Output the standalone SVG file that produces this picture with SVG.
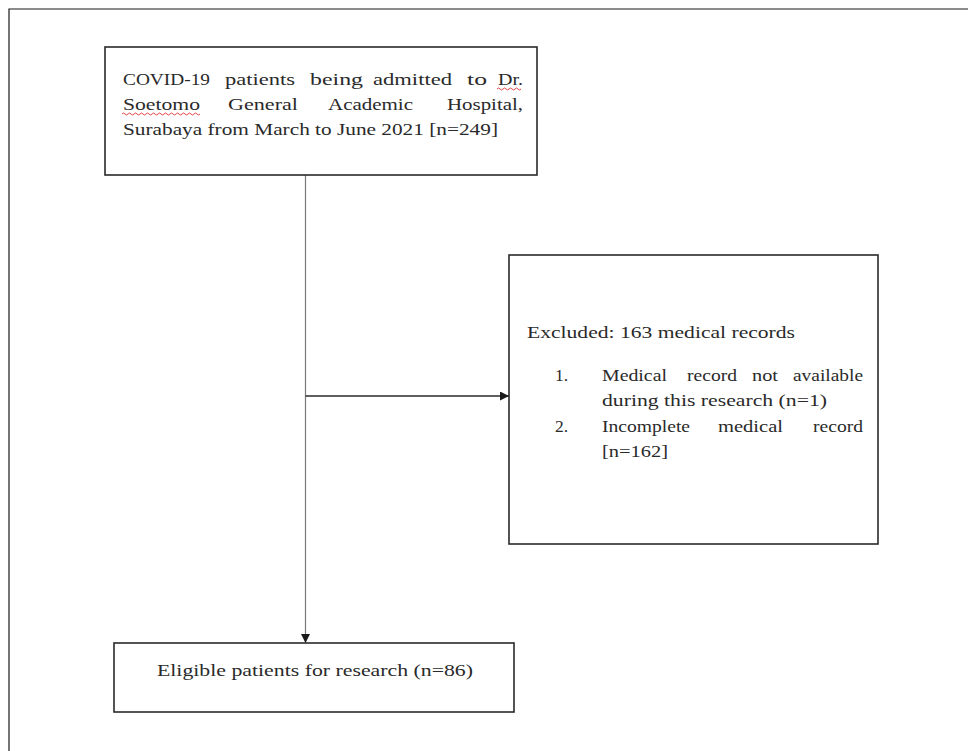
<svg xmlns="http://www.w3.org/2000/svg" width="968" height="751" viewBox="0 0 968 751">
<defs>
<style>
.box{fill:#fff;stroke:#2a2a2a;stroke-width:1.6}
.t{font-family:"Liberation Serif","DejaVu Serif",serif;font-size:17.5px;fill:#2a2a2a}
.sq{fill:none;stroke:#e03030;stroke-width:0.9}
</style>
<marker id="ah" viewBox="0 0 10 10" refX="10" refY="5" markerWidth="10" markerHeight="9" markerUnits="userSpaceOnUse" orient="auto">
<path d="M0,0 L10,5 L0,10 Z" fill="#1a1a1a"/>
</marker>
</defs>
<rect width="968" height="751" fill="#fff"/>
<g id="frame">
<path d="M9,751 L9,9 L968,9" fill="none" stroke="#1a1a1a" stroke-width="1.2"/>
</g>
<g id="connectors">
<line x1="305.5" y1="175" x2="305.5" y2="643" stroke="#7a7a7a" stroke-width="1.2" marker-end="url(#ah)"/>
<line x1="305.5" y1="396" x2="509" y2="396" stroke="#2a2a2a" stroke-width="1.5" marker-end="url(#ah)"/>
</g>
<g id="node-admitted">
<rect class="box" x="105" y="47" width="432" height="128"/>
<text class="t" x="123" y="85" textLength="87" lengthAdjust="spacingAndGlyphs">COVID-19</text>
<text class="t" x="225" y="85" textLength="70" lengthAdjust="spacingAndGlyphs">patients</text>
<text class="t" x="310" y="85" textLength="53" lengthAdjust="spacingAndGlyphs">being</text>
<text class="t" x="373" y="85" textLength="79" lengthAdjust="spacingAndGlyphs">admitted</text>
<text class="t" x="467" y="85" textLength="20" lengthAdjust="spacingAndGlyphs">to</text>
<text class="t" x="498" y="85" textLength="25" lengthAdjust="spacingAndGlyphs">Dr.</text>
<text class="t" x="123" y="110" textLength="77" lengthAdjust="spacingAndGlyphs">Soetomo</text>
<text class="t" x="228" y="110" textLength="70" lengthAdjust="spacingAndGlyphs">General</text>
<text class="t" x="328" y="110" textLength="85" lengthAdjust="spacingAndGlyphs">Academic</text>
<text class="t" x="447" y="110" textLength="76" lengthAdjust="spacingAndGlyphs">Hospital,</text>
<text class="t" x="123" y="135" textLength="375" lengthAdjust="spacingAndGlyphs">Surabaya from March to June 2021 [n=249]</text>
<path class="sq" d="M497,89 q1.5,-2 3,0 t3,0 t3,0 t3,0 t3,0 t3,0 t3,0 t3,0"/>
<path class="sq" d="M122,114 q1.5,-2 3,0 t3,0 t3,0 t3,0 t3,0 t3,0 t3,0 t3,0 t3,0 t3,0 t3,0 t3,0 t3,0 t3,0 t3,0 t3,0 t3,0 t3,0 t3,0 t3,0 t3,0 t3,0 t3,0 t3,0 t3,0 t3,0"/>
</g>
<g id="node-excluded">
<rect class="box" x="509" y="255" width="369" height="289"/>
<text class="t" x="527" y="338" textLength="268" lengthAdjust="spacingAndGlyphs">Excluded: 163 medical records</text>
<text class="t" x="555" y="381">1.</text>
<text class="t" x="602" y="381" textLength="65" lengthAdjust="spacingAndGlyphs">Medical</text>
<text class="t" x="687" y="381" textLength="50" lengthAdjust="spacingAndGlyphs">record</text>
<text class="t" x="752" y="381" textLength="26" lengthAdjust="spacingAndGlyphs">not</text>
<text class="t" x="793" y="381" textLength="70" lengthAdjust="spacingAndGlyphs">available</text>
<text class="t" x="602" y="406" textLength="225" lengthAdjust="spacingAndGlyphs">during this research (n=1)</text>
<text class="t" x="555" y="432">2.</text>
<text class="t" x="602" y="432" textLength="88" lengthAdjust="spacingAndGlyphs">Incomplete</text>
<text class="t" x="718" y="432" textLength="65" lengthAdjust="spacingAndGlyphs">medical</text>
<text class="t" x="813" y="432" textLength="50" lengthAdjust="spacingAndGlyphs">record</text>
<text class="t" x="602" y="457" textLength="66" lengthAdjust="spacingAndGlyphs">[n=162]</text>
</g>
<g id="node-eligible">
<rect class="box" x="114" y="643" width="400" height="69"/>
<text class="t" x="157" y="676" textLength="316" lengthAdjust="spacingAndGlyphs">Eligible patients for research (n=86)</text>
</g>
</svg>
